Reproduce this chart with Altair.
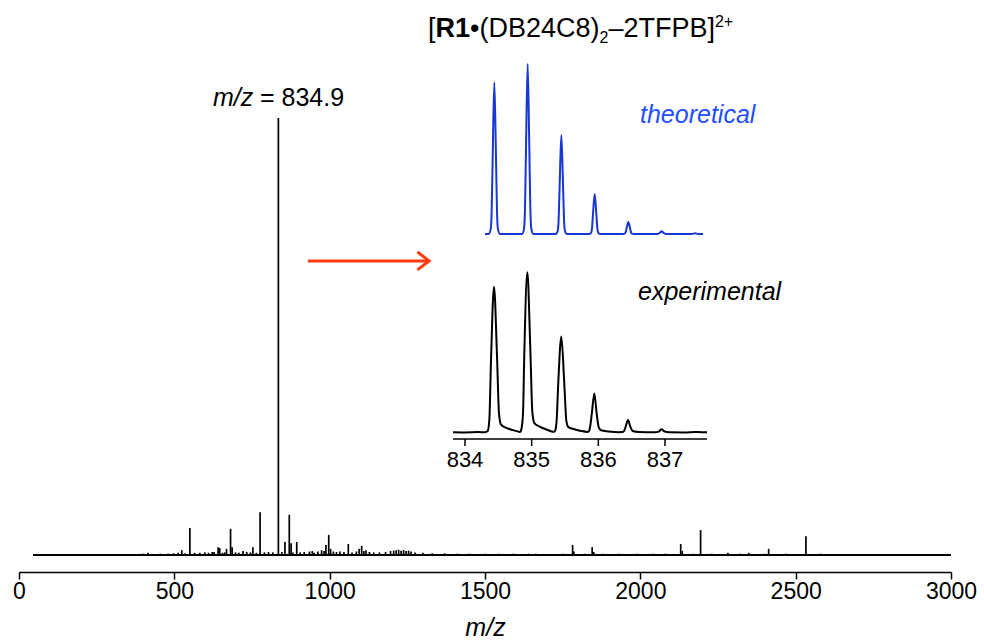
import altair as alt
import pandas as pd

FONT = "Liberation Sans"

# ---------------- main spectrum ----------------
peak_mz = [415, 524, 550, 628, 641, 646, 668, 681, 686, 721, 753, 776, 834.9, 856, 870,
           876, 894, 950, 974, 988, 997, 1003, 1060, 1095, 1103, 1110, 1117, 1180, 1664, 1782,
           1786, 1845, 1850, 2130, 2135, 2194, 2282, 2349, 2413, 2533]
peak_int = [0.5, 1.1, 6.2, 0.7, 1.8, 1.6, 1.4, 6.0, 1.8, 0.9, 1.8, 9.8, 100, 3.0, 9.2,
            2.7, 3.0, 0.5, 1.1, 2.3, 4.6, 1.4, 2.5, 1.4, 2.1, 0.9, 1.1, 0.7, 0.3, 2.3,
            0.8, 1.8, 0.7, 2.5, 0.9, 5.7, 0.5, 0.5, 1.4, 4.3]

noise_mz = [95, 170, 250, 330, 400, 455, 480, 498, 512, 535, 565, 582, 598, 610, 622,
            655, 662, 697, 708, 733, 745, 764, 790, 803, 817, 846, 882, 905, 918, 935,
            944, 962, 982, 1012, 1022, 1033, 1046, 1072, 1086, 1128, 1142, 1160, 1196, 1206, 1214,
            1222, 1230, 1238, 1246, 1254, 1262, 1275, 1300, 1330, 1370, 1410, 1450, 1500, 1545, 1590,
            1640, 1710, 1750, 1820, 1880, 1930, 1990, 2040, 2080, 2170, 2230, 2320, 2400, 2470, 2580,
            2680]
noise_int = [0.2, 0.2, 0.2, 0.2, 0.3, 0.3, 0.3, 0.4, 0.5, 0.4, 0.5, 0.5, 0.6, 0.5, 0.7,
             0.5, 0.6, 0.6, 0.5, 0.7, 0.6, 0.5, 0.6, 0.7, 0.6, 0.7, 0.6, 0.6, 0.7, 0.8,
             0.9, 0.8, 0.9, 0.8, 0.7, 0.8, 0.7, 0.6, 0.8, 0.7, 0.6, 0.6, 0.9, 1.0, 1.1,
             1.2, 1.0, 1.1, 0.9, 1.0, 0.8, 0.6, 0.5, 0.4, 0.4, 0.3, 0.3, 0.3, 0.3, 0.3,
             0.3, 0.2, 0.3, 0.3, 0.3, 0.3, 0.3, 0.3, 0.3, 0.3, 0.3, 0.3, 0.3, 0.3, 0.3,
             0.2]

baseline_range = [45, 3000]
main_ticks = [0, 500, 1000, 1500, 2000, 2500, 3000]

# ---------------- inset: theoretical ----------------
theo_mz = [834.30,
           834.355, 834.385, 834.40, 834.415, 834.44, 834.465, 834.48, 834.495, 834.525,
           834.855, 834.885, 834.90, 834.915, 834.94, 834.965, 834.98, 834.995, 835.025,
           835.36, 835.39, 835.405, 835.42, 835.445, 835.47, 835.485, 835.50, 835.53,
           835.86, 835.89, 835.905, 835.92, 835.945, 835.97, 835.985, 836.00, 836.03,
           836.365, 836.395, 836.41, 836.425, 836.45, 836.475, 836.49, 836.505, 836.535,
           836.89, 836.925, 836.95, 836.975, 837.01,
           837.40, 837.45, 837.50,
           837.57]
theo_int = [0,
            0, 2.7, 13.4, 44.6, 89.2, 44.6, 13.4, 2.7, 0,
            0, 3, 15, 50, 100, 50, 15, 3, 0,
            0, 1.7, 8.7, 29.1, 58.2, 29.1, 8.7, 1.7, 0,
            0, 0.7, 3.5, 11.8, 23.5, 11.8, 3.5, 0.7, 0,
            0, 0.2, 1.1, 3.6, 7.1, 3.6, 1.1, 0.2, 0,
            0, 0.8, 1.6, 0.8, 0,
            0, 0.4, 0,
            0]

# ---------------- inset: experimental ----------------
exp_mz = [833.82, 834.00, 834.20, 834.30,
          834.34, 834.365, 834.39, 834.435, 834.48, 834.51, 834.54, 834.62, 834.72, 834.80, 834.83,
          834.845, 834.87, 834.89, 834.935, 834.98, 835.01, 835.04, 835.12, 835.22, 835.30, 835.34,
          835.355, 835.375, 835.40, 835.445, 835.49, 835.52, 835.55, 835.64, 835.74, 835.84,
          835.86, 835.88, 835.905, 835.94, 835.975, 836.005, 836.04, 836.15, 836.30, 836.36,
          836.385, 836.41, 836.445, 836.48, 836.515, 836.60, 836.85,
          836.905, 836.95, 836.995, 837.06, 837.30, 837.45, 837.55, 837.63]
exp_int = [0.3, 0.2, 0.4, 0.3,
           1, 8, 45, 91, 48, 12, 5, 3, 1.6, 0.7, 0.5,
           2, 12, 50, 100, 52, 13, 6, 3.8, 2, 0.8, 0.6,
           1.5, 8, 32, 59.9, 30, 7.5, 3.5, 2.2, 1.1, 0.5,
           1, 4.5, 13, 24.5, 12, 3.5, 1.5, 0.8, 0.3, 0.4,
           1, 3.8, 7.9, 3.8, 1.1, 0.5, 0.3,
           0.7, 2.1, 0.7, 0.3, 0.2, 0.5, 0.3, 0.3]

inset_domain = [833.82, 837.63]
inset_ticks = [834, 835, 836, 837]

# arrow (in main-spectrum data coordinates)
arrow_mz = [930, 1320]
arrow_level = 67.3

BLUE_LINE = "#1636d6"
BLUE_TEXT = "#1f4fff"
RED = "#ff3a12"

# ---------------- scales ----------------
main_x = alt.Scale(domain=[0, 3000], nice=False, zero=False)
main_y = alt.Scale(domain=[0, 100], range=[555, 118], nice=False, zero=False)
inset_x = alt.Scale(domain=inset_domain, range=[434, 688], nice=False, zero=False)
theo_y = alt.Scale(domain=[0, 100], range=[234, 64], nice=False, zero=False)
exp_y = alt.Scale(domain=[0, 100], range=[432.7, 272.3], nice=False, zero=False)

main_axis = alt.Axis(values=main_ticks, format="d", title="m/z", grid=False, offset=17,
                     domainColor="black", domainWidth=1.5, tickColor="black",
                     tickWidth=1.5, tickSize=7, labelFont=FONT, labelFontSize=23,
                     labelColor="black", labelPadding=1, labelFlush=False,
                     titleFont=FONT, titleFontSize=25, titleFontStyle="italic",
                     titleFontWeight="normal", titleColor="black", titlePadding=12)

# ---------------- layers ----------------
base_df = pd.DataFrame({"x0": [baseline_range[0]], "x1": [baseline_range[1]], "y": [0]})
baseline = alt.Chart(base_df).mark_rule(color="black", strokeWidth=2).encode(
    x=alt.X("x0:Q", scale=main_x, axis=main_axis),
    x2="x1:Q",
    y=alt.Y("y:Q", scale=main_y, axis=None),
)

spec_df = pd.DataFrame({"mz": peak_mz + noise_mz, "intensity": peak_int + noise_int, "zero": 0})
peaks = alt.Chart(spec_df).mark_rule(color="black", strokeWidth=1.7).encode(
    x=alt.X("mz:Q", scale=main_x, axis=None),
    y=alt.Y("intensity:Q", scale=main_y, axis=None),
    y2="zero:Q",
)

arrow_df = pd.DataFrame({"x0": [arrow_mz[0]], "x1": [arrow_mz[1] - 5], "xh": [arrow_mz[1]],
                         "y": [arrow_level]})
arrow_shaft = alt.Chart(arrow_df).mark_rule(color=RED, strokeWidth=3).encode(
    x=alt.X("x0:Q", scale=main_x, axis=None), x2="x1:Q",
    y=alt.Y("y:Q", scale=main_y, axis=None),
)
arrow_head = alt.Chart(arrow_df).mark_point(
    shape="M -1.3 -1 L 0 0 L -1.3 1", filled=False, size=324, strokeWidth=3,
    color=RED, opacity=1, strokeJoin="miter", strokeCap="butt",
).encode(
    x=alt.X("xh:Q", scale=main_x, axis=None),
    y=alt.Y("y:Q", scale=main_y, axis=None),
)

theo_df = pd.DataFrame({"mz": theo_mz, "i": theo_int})
theo_line = alt.Chart(theo_df).mark_line(color=BLUE_LINE, strokeWidth=2, interpolate="monotone").encode(
    x=alt.X("mz:Q", scale=inset_x, axis=None),
    y=alt.Y("i:Q", scale=theo_y, axis=None),
)

exp_df = pd.DataFrame({"mz": exp_mz, "i": exp_int})
exp_line = alt.Chart(exp_df).mark_line(color="black", strokeWidth=2, interpolate="monotone").encode(
    x=alt.X("mz:Q", scale=inset_x, axis=None),
    y=alt.Y("i:Q", scale=exp_y, axis=None),
)

inset_dom_df = pd.DataFrame({"x0": [inset_domain[0]], "x1": [inset_domain[1]]})
inset_domain_line = alt.Chart(inset_dom_df).mark_rule(color="black", strokeWidth=1.5).encode(
    x=alt.X("x0:Q", scale=inset_x, axis=None), x2="x1:Q", y=alt.value(439),
)
tick_df = pd.DataFrame({"v": inset_ticks, "lab": [str(t) for t in inset_ticks]})
inset_tick_marks = alt.Chart(tick_df).mark_rule(color="black", strokeWidth=1.5).encode(
    x=alt.X("v:Q", scale=inset_x, axis=None), y=alt.value(439), y2=alt.value(446),
)
inset_tick_labels = alt.Chart(tick_df).mark_text(
    font=FONT, fontSize=22, color="black", align="center", baseline="alphabetic",
).encode(
    x=alt.X("v:Q", scale=inset_x, axis=None), y=alt.value(466.5), text="lab:N",
)


def label(text, px, py, size=25, style="normal", weight="normal", color="black"):
    return alt.Chart(pd.DataFrame({"t": [text]})).mark_text(
        align="left", baseline="alphabetic", font=FONT, fontSize=size,
        fontStyle=style, fontWeight=weight, color=color,
    ).encode(x=alt.value(px - 19), y=alt.value(py), text="t:N")


texts = [
    label("m/z", 213, 106, style="italic"),
    label("= 834.9", 260, 106),
    label("theoretical", 640, 123, style="italic", color=BLUE_TEXT),
    label("experimental", 638, 300, style="italic"),
    label("[", 428, 36.7, size=27),
    label("R1", 435.5, 36.7, size=27, weight="bold"),
    label("\u2022(DB24C8)", 470, 36.7, size=27),
    label("2", 599.5, 42.5, size=16),
    label("\u20132TFPB]", 608.4, 36.7, size=27),
    label("2+", 714.9, 27, size=16),
]

chart = alt.layer(
    baseline, peaks, arrow_shaft, arrow_head,
    theo_line, exp_line, inset_domain_line, inset_tick_marks, inset_tick_labels,
    *texts,
).resolve_scale(
    x="independent", y="independent"
).properties(
    width=932, height=555,
    autosize=alt.AutoSizeParams(type="none"),
    padding={"left": 19, "right": 33, "top": 0, "bottom": 88},
    background="white",
).configure_view(stroke=None)

chart.save("out.html", embed_options={"renderer": "svg", "actions": False})
